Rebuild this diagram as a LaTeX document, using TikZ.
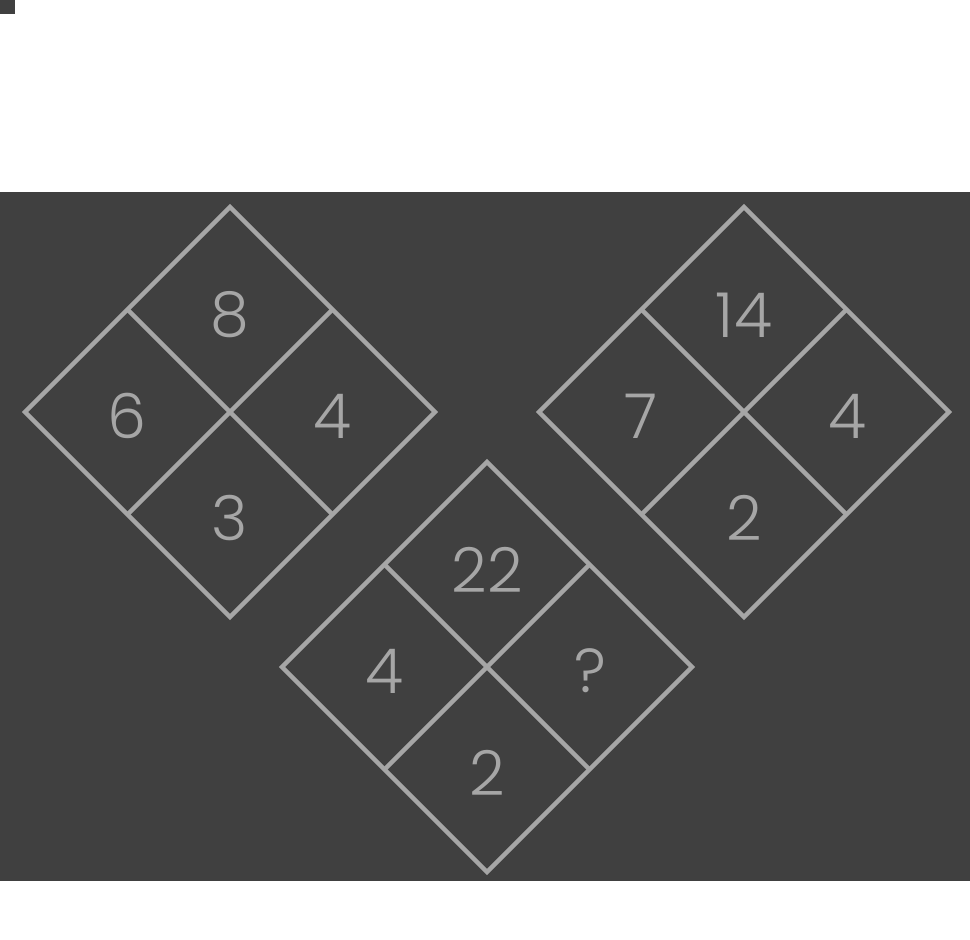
\documentclass[tikz,border=0pt]{standalone}
\usepackage{fontspec}
\usetikzlibrary{calc}
\newfontfamily\numfont{Poppins Light}
\definecolor{bg}{HTML}{404040}
\definecolor{ln}{HTML}{A6A6A6}
\begin{document}
\begin{tikzpicture}[x=1pt,y=-1pt,
  edge/.style={draw=ln,line width=4.5pt,line join=miter},
  num/.style={text=ln,font=\numfont\fontsize{62}{62}\selectfont,inner sep=0pt,anchor=center}]
\useasboundingbox (0,0) rectangle (970,940);
\fill[bg] (0,0) rectangle (15,14);
\fill[bg] (0,192) rectangle (970,881);
\newcommand{\puzzle}[7]{%
  \begin{scope}[shift={(#1,#2)}]
    \coordinate (#3T) at (0,-205);
    \coordinate (#3R) at (205,0);
    \coordinate (#3B) at (0,205);
    \coordinate (#3L) at (-205,0);
    \draw[edge] (#3T) -- (#3R) -- (#3B) -- (#3L) -- cycle;
    \draw[edge] ($(#3T)!0.5!(#3L)$) -- ($(#3R)!0.5!(#3B)$);
    \draw[edge] ($(#3T)!0.5!(#3R)$) -- ($(#3L)!0.5!(#3B)$);
    \node[num] (#3t) at (0,-97) {#4};
    \node[num] (#3l) at (-103,4) {#5};
    \node[num] (#3r) at (103,4) {#6};
    \node[num] (#3b) at (0,106) {#7};
  \end{scope}}
\puzzle{230}{412}{a}{8}{6}{4}{3}
\puzzle{744}{412}{c}{14}{7}{4}{2}
\puzzle{487}{667}{b}{22}{4}{?}{2}
\end{tikzpicture}
\end{document}
